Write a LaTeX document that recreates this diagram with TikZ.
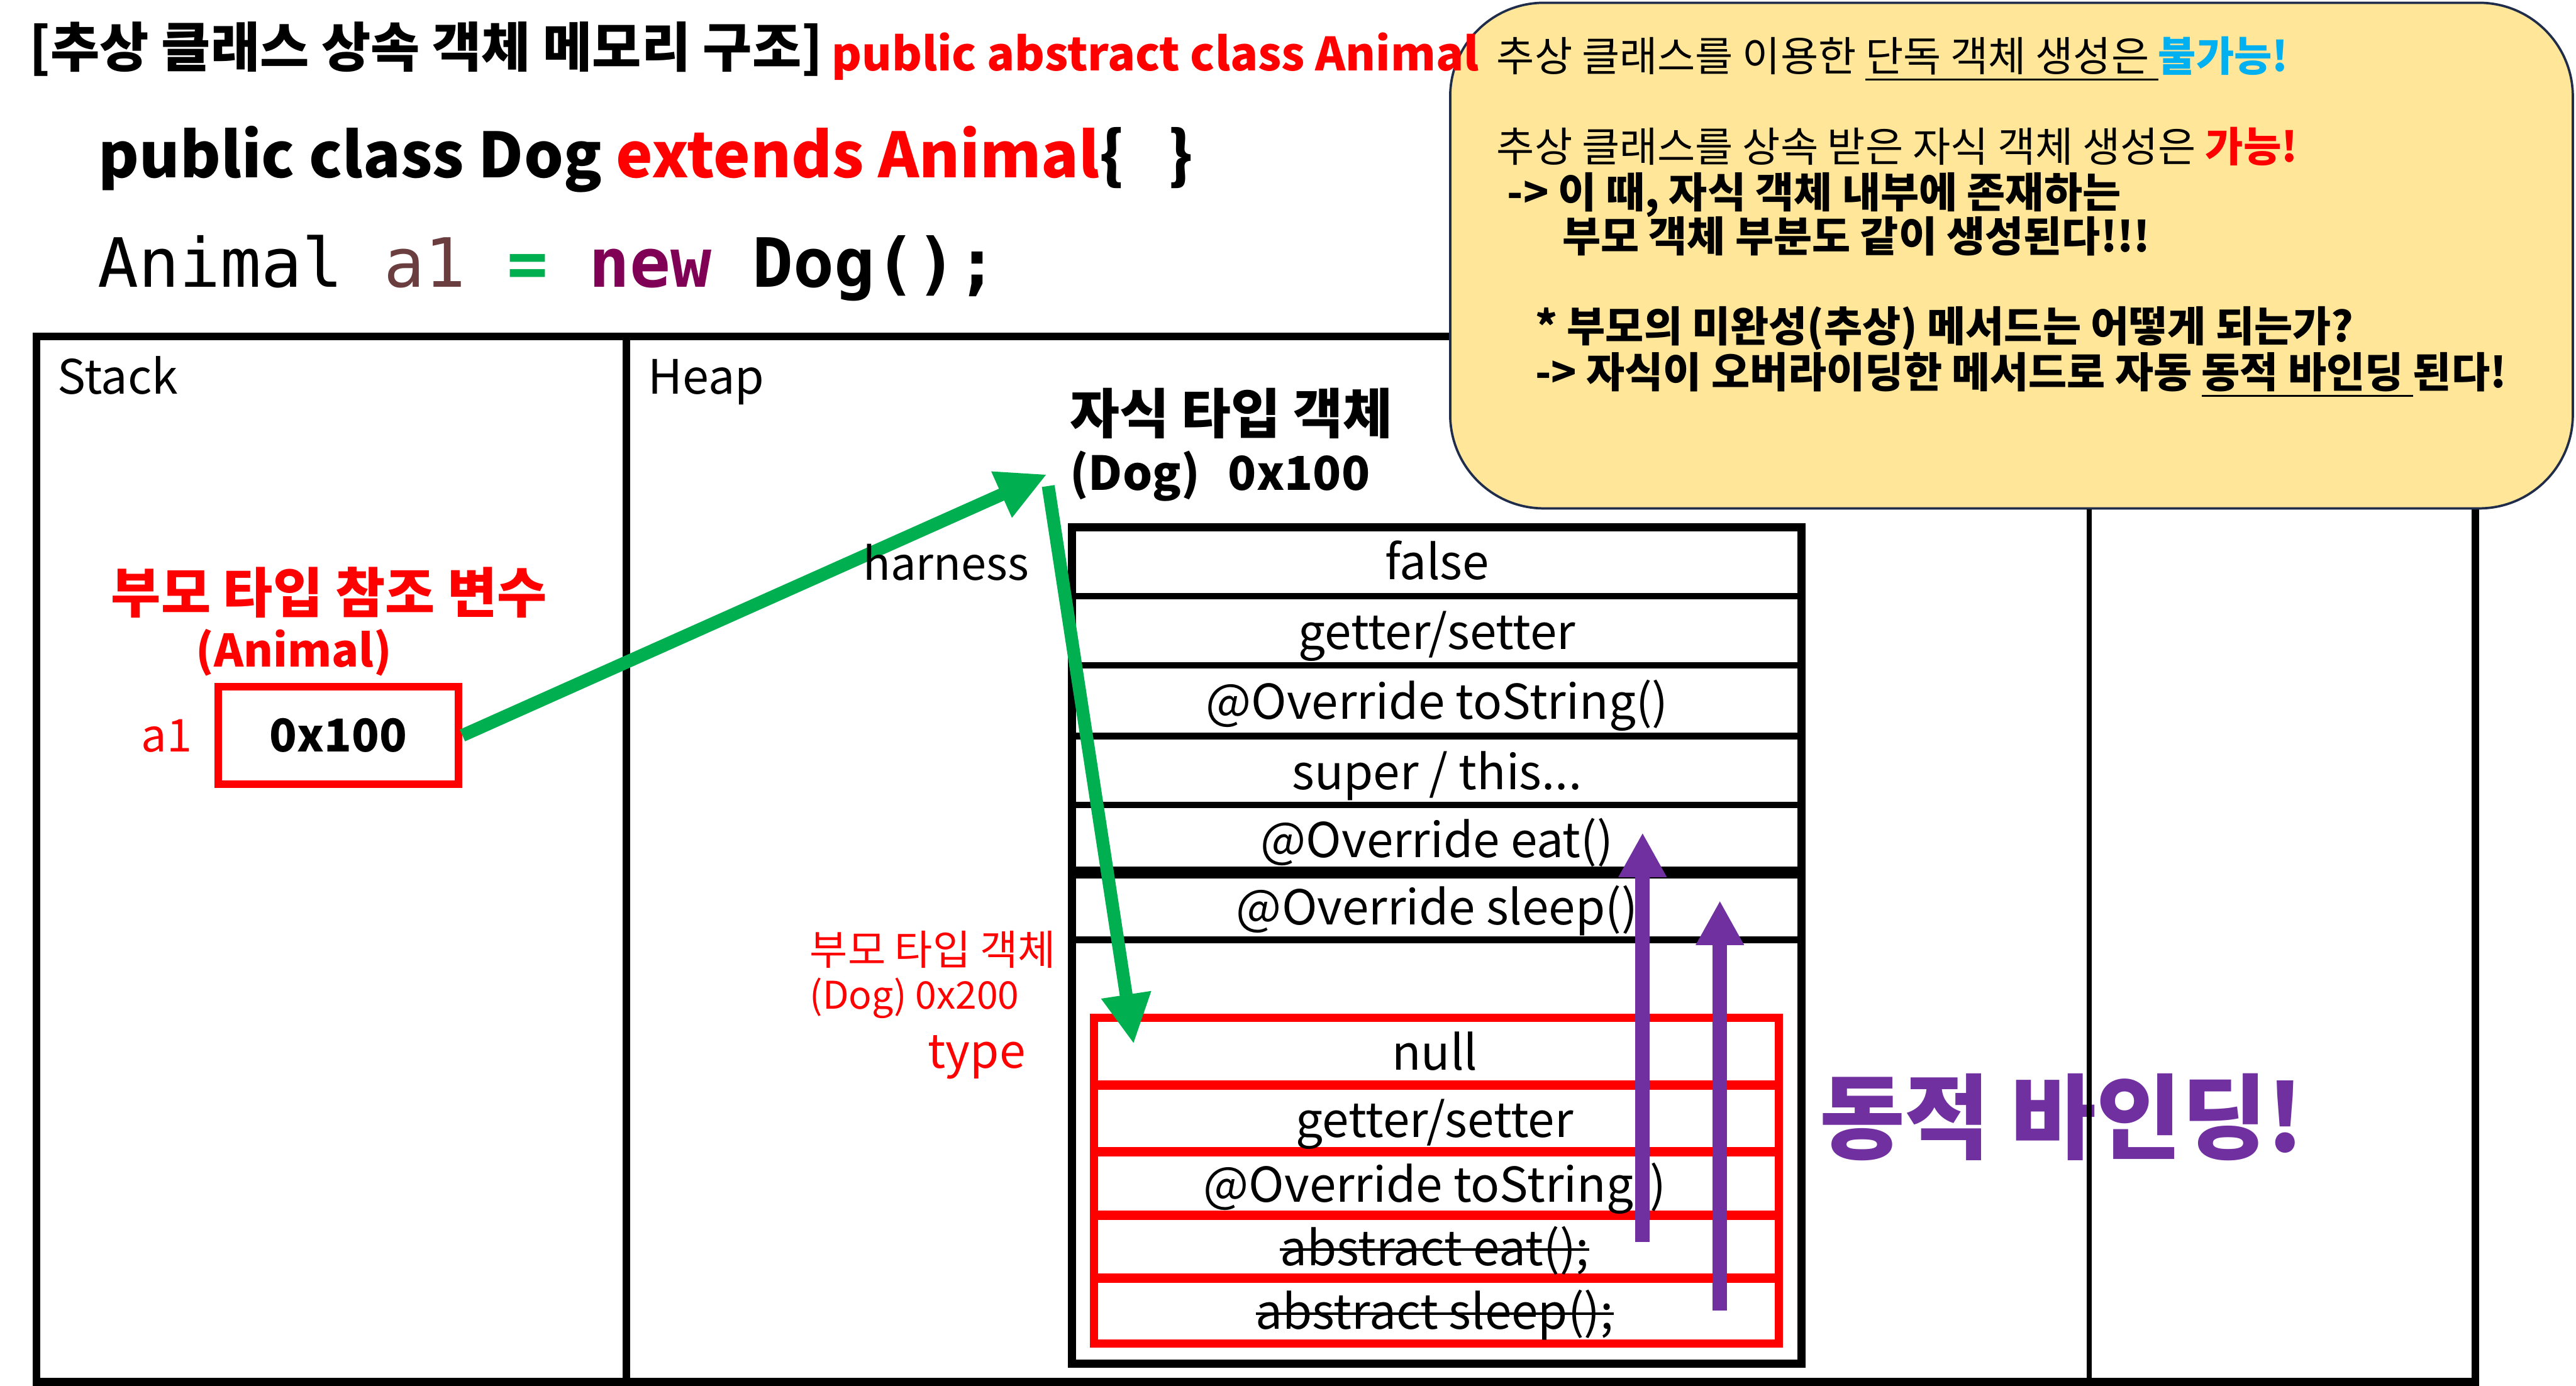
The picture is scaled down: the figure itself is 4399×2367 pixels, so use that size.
\documentclass[tikz,border=0pt]{standalone}
\usepackage{fontspec}
\setmainfont{Noto Sans CJK KR}
\newfontfamily\codefont{DejaVu Sans Mono}
\usepackage{tikz}
\usetikzlibrary{arrows.meta}
\definecolor{memred}{HTML}{FF0000}
\definecolor{memgreen}{HTML}{00B050}
\definecolor{mempurple}{HTML}{7030A0}
\definecolor{memcyan}{HTML}{00B0F0}
\definecolor{memvar}{HTML}{6A3E3E}
\definecolor{memkey}{HTML}{7F0055}
\definecolor{memnote}{HTML}{FFE699}
\definecolor{memnavy}{HTML}{1F2D4A}
\newcommand\memul[1]{\setbox0\hbox{#1}\rlap{\rule[-0.22em]{\wd0}{0.05em}}\box0}
\newcommand\memso[1]{\setbox0\hbox{#1}\rlap{\rule[0.3em]{\wd0}{0.05em}}\box0}

\begin{document}
\begin{tikzpicture}[
  x=0.01cm, y=-0.01cm,
  txt/.style={inner sep=0pt, outer sep=0pt},
  bigframe/.style={line width=0.13cm},
  rowline/.style={line width=0.11cm},
  redline/.style={line width=0.16cm, draw=memred},
  rowtxt/.style={txt, font=\fontsize{23.3}{28}\selectfont,
    text height=20.5pt, text depth=2.3pt},
  notetxt/.style={txt, anchor=base west, font=\fontsize{20}{24}\selectfont},
  notebold/.style={notetxt, font=\fontsize{20.3}{24}\selectfont\bfseries},
  notebox/.style={draw=memnavy, fill=memnote, line width=0.04cm,
    rounded corners=1.6cm, minimum width=19.16cm, minimum height=8.63cm},
  greenarr/.style={-{Triangle[length=0.85cm, width=0.8cm]}, line width=0.22cm, memgreen},
  purparr/.style={-{Triangle[length=0.76cm, width=0.77cm]}, line width=0.25cm, mempurple},
]
\useasboundingbox (0,0) rectangle (4399,2367);

% Memory frame
\draw[bigframe] (62,575) rectangle (4227,2360);
\draw[bigframe] (1070,575) -- (1070,2360);

% Note
\node[notebox] (note) at (3435,436.5) {};
\node[notetxt] (n1) at (2556,122) {추상 클래스를 이용한 \memul{단독 객체 생성은~}\textbf{\textcolor{memcyan}{불가능!}}};
\node[notetxt] (n2) at (2556,277) {추상 클래스를 상속 받은 자식 객체 생성은 \textbf{\textcolor{memred}{가능!}}};
\node[notebold] (n3) at (2574,355) {-> 이 때, 자식 객체 내부에 존재하는};
\node[notebold] (n4) at (2668,430) {부모 객체 부분도 같이 생성된다!!!};
\node[notebold] (n5) at (2622,584) {* 부모의 미완성(추상) 메서드는 어떻게 되는가?};
\node[notebold] (n6) at (2622,662) {-> 자식이 오버라이딩한 메서드로 자동 \memul{동적 바인딩~}된다!};

% Title and code
\node[txt, anchor=west, font=\fontsize{26}{31}\selectfont\bfseries] (title) at (50,84) {[추상 클래스 상속 객체 메모리 구조]};
\node[txt, anchor=west, font=\fontsize{22.3}{27}\selectfont\bfseries, text=memred] (abs) at (1420,96) {public abstract class Animal};
\node[txt, anchor=west, font=\fontsize{30.2}{36}\selectfont\bfseries] (decl) at (168,272) {public class Dog \textcolor{memred}{extends Animal}\{\hspace{0.7em}\}};
\node[txt, anchor=west, font=\codefont\fontsize{33}{40}\selectfont] (code) at (167,458) {Animal \textcolor{memvar}{a1} \textbf{\textcolor{memgreen}{=}} \textbf{\textcolor{memkey}{new}} \textbf{Dog();}};

% Stack
\node[txt, anchor=west, font=\fontsize{23}{28}\selectfont] (stack) at (98,641) {Stack};
\node[txt, font=\fontsize{26.3}{31}\selectfont\bfseries, text=memred] (reflbl) at (562,1012) {부모 타입 참조 변수};
\node[txt, font=\fontsize{21.8}{26}\selectfont\bfseries, text=memred] (reftype) at (502,1115) {(Animal)};
\node[draw=memred, line width=0.13cm, minimum width=4.1cm, minimum height=1.66cm, inner sep=0pt,
  font=\fontsize{22}{26}\selectfont\bfseries] (a1box) at (578,1256) {0x100};
\node[txt, anchor=east, font=\fontsize{22}{26}\selectfont, text=memred] (a1) at (328,1257) {a1};

% Heap
\node[txt, anchor=west, font=\fontsize{23}{28}\selectfont] (heap) at (1107,652) {Heap};
\node[txt, anchor=west, font=\fontsize{26.2}{31}\selectfont\bfseries] (childlbl) at (1827,706) {자식 타입 객체};
\node[txt, anchor=west, font=\fontsize{22.7}{27}\selectfont\bfseries] (childaddr) at (1827,813) {(Dog)\hspace{0.6em}0x100};

% Child object
\node[draw, line width=0.14cm, minimum width=12.45cm, minimum height=14.27cm] (childobj) at (2453.5,1614.5) {};
\foreach \y in {1018,1136,1257,1375,1605}
  \draw[rowline] (childobj.west |- 0,\y) -- (childobj.east |- 0,\y);
\draw[line width=0.2cm] (childobj.west |- 0,1490) -- (childobj.east |- 0,1490);
\node[rowtxt] (r1) at (2454,958) {false};
\node[rowtxt] (r2) at (2454,1077) {getter/setter};
\node[rowtxt] (r3) at (2454,1196) {@Override toString()};
\node[rowtxt] (r4) at (2454,1316) {super / this...};
\node[rowtxt] (r5) at (2454,1432) {@Override eat()};
\node[rowtxt] (r6) at (2454,1547) {@Override sleep()};

% Parent object
\node[draw=memred, line width=0.14cm, minimum width=11.69cm, minimum height=5.56cm] (parentobj) at (2452.5,2016) {};
\foreach \y in {1853,1967,2075,2183}
  \draw[redline] (parentobj.west |- 0,\y) -- (parentobj.east |- 0,\y);
\node[rowtxt] (p1) at (2450,1795) {null};
\node[rowtxt] (p2) at (2450,1910) {getter/setter};
\node[rowtxt] (p3) at (2450,2021) {@Override toString()};
\node[rowtxt] (p4) at (2450,2129) {\memso{abstract eat();}};
\node[rowtxt] (p5) at (2450,2238) {\memso{abstract sleep();}};

\node[txt, anchor=west, font=\fontsize{20}{24}\selectfont, text=memred] (parentlbl) at (1383,1622) {부모 타입 객체};
\node[txt, anchor=west, font=\fontsize{18.5}{22}\selectfont, text=memred] (parentaddr) at (1383,1705) {(Dog) 0x200};
\node[txt, anchor=east, font=\fontsize{22.8}{27}\selectfont, text=memred] (typelbl) at (1751,1806) {type};

% References
\coordinate (childtip) at (1788,810);
\coordinate (childtail) at (1790,830);
\coordinate (parenttip) at (1936,1783);
\draw[greenarr] (a1box.east) -- (childtip);
\draw[greenarr] (childtail) -- (parenttip);
\node[txt, anchor=east, font=\fontsize{22}{27}\selectfont] (harness) at (1757,960) {harness};

% Dynamic binding
\coordinate (eatfrom) at (2805,2121);
\coordinate (eatto) at (2805,1422);
\coordinate (sleepfrom) at (2937,2238);
\coordinate (sleepto) at (2937,1538);
\draw[purparr] (eatfrom) -- (eatto);
\draw[purparr] (sleepfrom) -- (sleepto);
\node[txt, anchor=west, font=\fontsize{45}{54}\selectfont\bfseries, text=mempurple] (bindlbl) at (3107,1908) {동적 바인딩!};

\draw[line width=0.09cm] (note.south -| 3568,0) -- (3568,2360);

\end{tikzpicture}
\end{document}
